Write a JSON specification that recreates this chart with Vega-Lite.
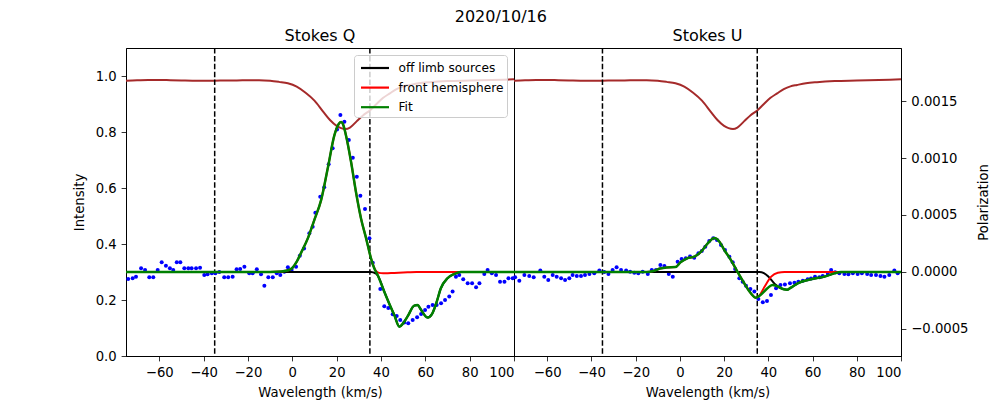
{
  "$schema": "https://vega.github.io/schema/vega-lite/v6.json",
  "description": "Stokes Q and U profiles, 2020/10/16",
  "title": {"text": "2020/10/16", "anchor": "start", "frame": "bounds", "dx": 383, "offset": 3},
  "padding": {"left": 71, "top": 8, "right": 5, "bottom": 5},
  "datasets": {
    "intensity": [
      {"x": -75, "i": 0.983}, {"x": -70, "i": 0.985}, {"x": -65, "i": 0.986}, {"x": -60, "i": 0.986},
      {"x": -55, "i": 0.985}, {"x": -50, "i": 0.984}, {"x": -45, "i": 0.983}, {"x": -40, "i": 0.983},
      {"x": -35, "i": 0.983}, {"x": -30, "i": 0.984}, {"x": -25, "i": 0.984}, {"x": -20, "i": 0.985},
      {"x": -15, "i": 0.985}, {"x": -10, "i": 0.983}, {"x": -6, "i": 0.979}, {"x": -2, "i": 0.974},
      {"x": 2, "i": 0.962}, {"x": 6, "i": 0.940}, {"x": 10, "i": 0.912}, {"x": 14, "i": 0.872},
      {"x": 17, "i": 0.843}, {"x": 20, "i": 0.822}, {"x": 22, "i": 0.814}, {"x": 24, "i": 0.811},
      {"x": 26, "i": 0.816}, {"x": 29, "i": 0.838}, {"x": 32, "i": 0.860}, {"x": 35, "i": 0.877},
      {"x": 38, "i": 0.900}, {"x": 41, "i": 0.922}, {"x": 44, "i": 0.938}, {"x": 47, "i": 0.953},
      {"x": 50, "i": 0.963}, {"x": 53, "i": 0.968}, {"x": 57, "i": 0.974}, {"x": 62, "i": 0.978},
      {"x": 70, "i": 0.982}, {"x": 80, "i": 0.984}, {"x": 90, "i": 0.986}, {"x": 100, "i": 0.988}
    ],
    "q_pts": [
      {"x": -74.0, "p": -0.000061}, {"x": -72.0, "p": -0.000055}, {"x": -70.5, "p": -0.000041},
      {"x": -68.2, "p": 0.000032}, {"x": -66.4, "p": 0.000018}, {"x": -64.5, "p": -0.000047},
      {"x": -62.7, "p": -0.000047}, {"x": -60.7, "p": 0.000018}, {"x": -58.9, "p": 0.000085},
      {"x": -57.0, "p": 0.000055}, {"x": -55.2, "p": 0.000032}, {"x": -53.7, "p": 0.000018},
      {"x": -52.1, "p": 0.000085}, {"x": -50.5, "p": 0.000085}, {"x": -48.7, "p": 0.000032},
      {"x": -46.9, "p": 0.000032}, {"x": -45.4, "p": 0.000032}, {"x": -43.4, "p": 0.000032},
      {"x": -41.6, "p": 0.000038}, {"x": -39.7, "p": -0.000026}, {"x": -38.2, "p": -0.000020},
      {"x": -36.3, "p": -0.000012}, {"x": -34.7, "p": -0.000012}, {"x": -32.9, "p": 0.0},
      {"x": -30.7, "p": -0.000047}, {"x": -28.9, "p": -0.000047}, {"x": -26.9, "p": -0.000041},
      {"x": -25.1, "p": 0.000023}, {"x": -23.5, "p": 0.000026}, {"x": -21.6, "p": 0.000047},
      {"x": -19.4, "p": -0.000012}, {"x": -17.9, "p": -0.000012}, {"x": -16.0, "p": 0.000023},
      {"x": -14.1, "p": -0.000020}, {"x": -12.6, "p": -0.000120}, {"x": -10.8, "p": -0.000047},
      {"x": -8.8, "p": -0.000047}, {"x": -7.0, "p": -0.000012}, {"x": -5.4, "p": -0.000026},
      {"x": -3.6, "p": 0.000003}, {"x": -2.0, "p": 0.000041}, {"x": -0.3, "p": 0.000018},
      {"x": 1.7, "p": 0.000047}, {"x": 3.4, "p": 0.000143}, {"x": 5.3, "p": 0.000207},
      {"x": 7.7, "p": 0.000339}, {"x": 9.2, "p": 0.000397}, {"x": 10.4, "p": 0.00052},
      {"x": 12.6, "p": 0.00066}, {"x": 14.4, "p": 0.000743}, {"x": 16.4, "p": 0.000945},
      {"x": 18.2, "p": 0.001085}, {"x": 20.2, "p": 0.00125}, {"x": 21.7, "p": 0.001377},
      {"x": 23.5, "p": 0.001318}, {"x": 25.5, "p": 0.001158}, {"x": 27.3, "p": 0.001002},
      {"x": 29.1, "p": 0.000836}, {"x": 30.7, "p": 0.000669}, {"x": 32.8, "p": 0.000552},
      {"x": 34.8, "p": 0.000295}, {"x": 36.3, "p": 0.00008}, {"x": 39.7, "p": -0.00015},
      {"x": 41.5, "p": -0.0003}, {"x": 43.3, "p": -0.000315}, {"x": 45.3, "p": -0.00037},
      {"x": 47.1, "p": -0.000385}, {"x": 48.7, "p": -0.000421}, {"x": 50.5, "p": -0.000444},
      {"x": 52.3, "p": -0.00045}, {"x": 54.3, "p": -0.000421}, {"x": 56.3, "p": -0.000398},
      {"x": 58.1, "p": -0.000368}, {"x": 59.9, "p": -0.000333}, {"x": 61.4, "p": -0.000304},
      {"x": 63.3, "p": -0.000289}, {"x": 65.1, "p": -0.000289}, {"x": 67.1, "p": -0.000275},
      {"x": 68.9, "p": -0.000246}, {"x": 70.8, "p": -0.000216}, {"x": 72.3, "p": -0.000172},
      {"x": 73.8, "p": -0.000041}, {"x": 75.3, "p": -0.000026}, {"x": 77.1, "p": -0.000064},
      {"x": 79.1, "p": -0.000099}, {"x": 81.1, "p": -0.000099}, {"x": 82.9, "p": -0.000134},
      {"x": 84.4, "p": -0.000099}, {"x": 86.6, "p": -0.000018}, {"x": 88.1, "p": 0.000018},
      {"x": 90.0, "p": -0.000012}, {"x": 91.9, "p": -0.000026}, {"x": 93.7, "p": -0.000085},
      {"x": 95.7, "p": -0.000085}, {"x": 97.5, "p": -0.000056}, {"x": 99.4, "p": -0.000056}
    ],
    "u_pts": [
      {"x": -74.5, "p": -0.000047}, {"x": -72.6, "p": -0.000076}, {"x": -70.3, "p": -0.000026},
      {"x": -68.1, "p": -0.000035}, {"x": -66.1, "p": -0.000047}, {"x": -63.1, "p": 0.000012},
      {"x": -61.3, "p": -0.000041}, {"x": -59.5, "p": -0.00007}, {"x": -57.5, "p": -0.000026},
      {"x": -55.7, "p": -0.000041}, {"x": -53.7, "p": -0.000056}, {"x": -51.9, "p": -0.00007},
      {"x": -50.0, "p": -0.000056}, {"x": -48.5, "p": -0.000026}, {"x": -46.6, "p": -0.000035},
      {"x": -44.7, "p": -0.000035}, {"x": -42.9, "p": -0.000026}, {"x": -40.9, "p": -0.000018},
      {"x": -38.7, "p": -0.000012}, {"x": -36.4, "p": 0.000012}, {"x": -34.2, "p": 0.0},
      {"x": -32.3, "p": -0.000018}, {"x": -30.4, "p": 0.000018}, {"x": -28.6, "p": 0.000041},
      {"x": -26.6, "p": 0.000018}, {"x": -24.3, "p": 0.000012}, {"x": -22.5, "p": 0.000003},
      {"x": -20.6, "p": -0.000006}, {"x": -18.8, "p": -0.000012}, {"x": -16.8, "p": 0.000003},
      {"x": -14.5, "p": -0.000018}, {"x": -12.7, "p": 0.000018}, {"x": -10.8, "p": 0.000018},
      {"x": -8.8, "p": 0.000061}, {"x": -7.0, "p": 0.000053}, {"x": -5.0, "p": -0.000018},
      {"x": -3.2, "p": -0.000041}, {"x": -1.0, "p": 0.00009}, {"x": 0.8, "p": 0.000115},
      {"x": 2.7, "p": 0.00012}, {"x": 4.6, "p": 0.000135}, {"x": 6.5, "p": 0.000126},
      {"x": 8.4, "p": 0.000164}, {"x": 9.9, "p": 0.000184}, {"x": 11.5, "p": 0.000222},
      {"x": 13.3, "p": 0.000272}, {"x": 15.1, "p": 0.000295}, {"x": 16.8, "p": 0.000281},
      {"x": 18.6, "p": 0.000237}, {"x": 20.4, "p": 0.000193}, {"x": 22.4, "p": 0.000134},
      {"x": 23.9, "p": 0.000085}, {"x": 25.0, "p": 0.000026}, {"x": 26.9, "p": -0.000056},
      {"x": 28.4, "p": -0.000085}, {"x": 29.9, "p": -0.00012}, {"x": 31.9, "p": -0.000149},
      {"x": 33.7, "p": -0.000172}, {"x": 35.5, "p": -0.000237}, {"x": 37.5, "p": -0.000266},
      {"x": 39.4, "p": -0.000254}, {"x": 41.2, "p": -0.000202}, {"x": 43.5, "p": -0.000143},
      {"x": 45.5, "p": -0.000114}, {"x": 47.5, "p": -0.00011}, {"x": 49.8, "p": -0.000099},
      {"x": 51.8, "p": -0.000094}, {"x": 53.6, "p": -0.000085}, {"x": 55.6, "p": -0.000076},
      {"x": 57.8, "p": -0.000064}, {"x": 59.3, "p": -0.000058}, {"x": 61.1, "p": -0.000041},
      {"x": 63.1, "p": -0.000047}, {"x": 64.6, "p": -0.000035}, {"x": 66.9, "p": -0.000018},
      {"x": 68.4, "p": 0.000018}, {"x": 70.2, "p": -0.000002}, {"x": 72.1, "p": -0.000012},
      {"x": 74.4, "p": -0.000018}, {"x": 76.2, "p": -0.00002}, {"x": 78.2, "p": -0.000012},
      {"x": 80.4, "p": -0.000018}, {"x": 82.3, "p": -0.000012}, {"x": 84.7, "p": -0.000018},
      {"x": 86.5, "p": -0.000026}, {"x": 88.7, "p": -0.000026}, {"x": 90.7, "p": -0.000035},
      {"x": 92.5, "p": -0.000041}, {"x": 94.7, "p": -0.000026}, {"x": 97.0, "p": 0.000012},
      {"x": 98.5, "p": -0.000012}
    ],
    "q_lines": [
      {"s": "off limb sources", "x": -75, "p": 0}, {"s": "off limb sources", "x": 35.5, "p": 0},
      {"s": "off limb sources", "x": 36.5, "p": -0.000003}, {"s": "off limb sources", "x": 37.5, "p": -0.000012},
      {"s": "off limb sources", "x": 38.5, "p": -0.00003}, {"s": "off limb sources", "x": 39.5, "p": -0.00007},
      {"s": "off limb sources", "x": 41.5, "p": -0.000173}, {"s": "off limb sources", "x": 44, "p": -0.00029},
      {"s": "off limb sources", "x": 46, "p": -0.000377}, {"s": "off limb sources", "x": 48.3, "p": -0.00048},
      {"s": "off limb sources", "x": 50, "p": -0.00045}, {"s": "off limb sources", "x": 52, "p": -0.00039},
      {"s": "off limb sources", "x": 55, "p": -0.000295}, {"s": "off limb sources", "x": 56.5, "p": -0.00029},
      {"s": "off limb sources", "x": 58, "p": -0.00033}, {"s": "off limb sources", "x": 61, "p": -0.0004},
      {"s": "off limb sources", "x": 63, "p": -0.00037}, {"s": "off limb sources", "x": 65, "p": -0.00027},
      {"s": "off limb sources", "x": 67, "p": -0.000143}, {"s": "off limb sources", "x": 70, "p": -0.000055},
      {"s": "off limb sources", "x": 73, "p": -0.000018}, {"s": "off limb sources", "x": 76, "p": 0},
      {"s": "off limb sources", "x": 100, "p": 0},
      {"s": "front hemisphere", "x": -75, "p": 0}, {"s": "front hemisphere", "x": -10, "p": 0},
      {"s": "front hemisphere", "x": -5, "p": 0.000004}, {"s": "front hemisphere", "x": -2, "p": 0.000015},
      {"s": "front hemisphere", "x": 0, "p": 0.000035}, {"s": "front hemisphere", "x": 2, "p": 0.00009},
      {"s": "front hemisphere", "x": 4, "p": 0.00017}, {"s": "front hemisphere", "x": 7, "p": 0.000295},
      {"s": "front hemisphere", "x": 10, "p": 0.00046}, {"s": "front hemisphere", "x": 13, "p": 0.00063},
      {"s": "front hemisphere", "x": 16, "p": 0.00091}, {"s": "front hemisphere", "x": 19, "p": 0.0012},
      {"s": "front hemisphere", "x": 21, "p": 0.0013}, {"s": "front hemisphere", "x": 22, "p": 0.001315},
      {"s": "front hemisphere", "x": 23, "p": 0.00129}, {"s": "front hemisphere", "x": 24.2, "p": 0.0012},
      {"s": "front hemisphere", "x": 26.5, "p": 0.000967}, {"s": "front hemisphere", "x": 28.7, "p": 0.000704},
      {"s": "front hemisphere", "x": 31, "p": 0.00047}, {"s": "front hemisphere", "x": 33.3, "p": 0.000295},
      {"s": "front hemisphere", "x": 35.5, "p": 0.00012}, {"s": "front hemisphere", "x": 36.5, "p": 0.00006},
      {"s": "front hemisphere", "x": 37.5, "p": 0.000015}, {"s": "front hemisphere", "x": 38.5, "p": -0.000003},
      {"s": "front hemisphere", "x": 40, "p": -0.00001}, {"s": "front hemisphere", "x": 42, "p": -0.000012},
      {"s": "front hemisphere", "x": 46, "p": -0.000008}, {"s": "front hemisphere", "x": 52, "p": -0.000003},
      {"s": "front hemisphere", "x": 56, "p": 0}, {"s": "front hemisphere", "x": 100, "p": 0},
      {"s": "Fit", "x": -75, "p": 0}, {"s": "Fit", "x": -10, "p": 0}, {"s": "Fit", "x": -5, "p": 0.000004},
      {"s": "Fit", "x": -2, "p": 0.000015}, {"s": "Fit", "x": 0, "p": 0.000035}, {"s": "Fit", "x": 2, "p": 0.00009},
      {"s": "Fit", "x": 4, "p": 0.00017}, {"s": "Fit", "x": 7, "p": 0.000295}, {"s": "Fit", "x": 10, "p": 0.00046},
      {"s": "Fit", "x": 13, "p": 0.00063}, {"s": "Fit", "x": 16, "p": 0.00091}, {"s": "Fit", "x": 19, "p": 0.0012},
      {"s": "Fit", "x": 21, "p": 0.0013}, {"s": "Fit", "x": 22, "p": 0.001315}, {"s": "Fit", "x": 23, "p": 0.00129},
      {"s": "Fit", "x": 24.2, "p": 0.0012}, {"s": "Fit", "x": 26.5, "p": 0.000967}, {"s": "Fit", "x": 28.7, "p": 0.000704},
      {"s": "Fit", "x": 31, "p": 0.00047}, {"s": "Fit", "x": 33.3, "p": 0.000295}, {"s": "Fit", "x": 35.5, "p": 0.00012},
      {"s": "Fit", "x": 37, "p": 0.00003}, {"s": "Fit", "x": 38.5, "p": -0.000026}, {"s": "Fit", "x": 41.5, "p": -0.000173},
      {"s": "Fit", "x": 44, "p": -0.00029}, {"s": "Fit", "x": 46, "p": -0.000377}, {"s": "Fit", "x": 48.3, "p": -0.00048},
      {"s": "Fit", "x": 50, "p": -0.00045}, {"s": "Fit", "x": 52, "p": -0.00039}, {"s": "Fit", "x": 55, "p": -0.000295},
      {"s": "Fit", "x": 56.5, "p": -0.00029}, {"s": "Fit", "x": 58, "p": -0.00033}, {"s": "Fit", "x": 61, "p": -0.0004},
      {"s": "Fit", "x": 63, "p": -0.00037}, {"s": "Fit", "x": 65, "p": -0.00027}, {"s": "Fit", "x": 67, "p": -0.000143},
      {"s": "Fit", "x": 70, "p": -0.000055}, {"s": "Fit", "x": 73, "p": -0.000018}, {"s": "Fit", "x": 76, "p": 0},
      {"s": "Fit", "x": 100, "p": 0}
    ],
    "u_lines": [
      {"s": "off limb sources", "x": -75, "p": 0}, {"s": "off limb sources", "x": 36, "p": 0},
      {"s": "off limb sources", "x": 38, "p": -0.00001}, {"s": "off limb sources", "x": 40, "p": -0.00004},
      {"s": "off limb sources", "x": 42, "p": -0.000085}, {"s": "off limb sources", "x": 43.5, "p": -0.000115},
      {"s": "off limb sources", "x": 44.1, "p": -0.000125}, {"s": "off limb sources", "x": 47, "p": -0.000152},
      {"s": "off limb sources", "x": 48.5, "p": -0.000155}, {"s": "off limb sources", "x": 50, "p": -0.00014},
      {"s": "off limb sources", "x": 53.3, "p": -0.000099}, {"s": "off limb sources", "x": 59.3, "p": -0.000064},
      {"s": "off limb sources", "x": 65.3, "p": -0.000041}, {"s": "off limb sources", "x": 69.8, "p": -0.000012},
      {"s": "off limb sources", "x": 72.8, "p": 0}, {"s": "off limb sources", "x": 100, "p": 0},
      {"s": "front hemisphere", "x": -75, "p": 0}, {"s": "front hemisphere", "x": -15, "p": 0},
      {"s": "front hemisphere", "x": -12, "p": 0.000008}, {"s": "front hemisphere", "x": -9, "p": 0.00003},
      {"s": "front hemisphere", "x": -6, "p": 0.00004}, {"s": "front hemisphere", "x": -2, "p": 0.000043},
      {"s": "front hemisphere", "x": 0.3, "p": 0.000085}, {"s": "front hemisphere", "x": 3.3, "p": 0.00012},
      {"s": "front hemisphere", "x": 6.5, "p": 0.000134}, {"s": "front hemisphere", "x": 9.6, "p": 0.000178},
      {"s": "front hemisphere", "x": 12.6, "p": 0.000251}, {"s": "front hemisphere", "x": 15.6, "p": 0.000298},
      {"s": "front hemisphere", "x": 17.9, "p": 0.000266}, {"s": "front hemisphere", "x": 20.1, "p": 0.000193},
      {"s": "front hemisphere", "x": 23.1, "p": 0.000105}, {"s": "front hemisphere", "x": 26.1, "p": 0},
      {"s": "front hemisphere", "x": 29.1, "p": -0.000099}, {"s": "front hemisphere", "x": 32.1, "p": -0.000187},
      {"s": "front hemisphere", "x": 34.3, "p": -0.000225}, {"s": "front hemisphere", "x": 36, "p": -0.000205},
      {"s": "front hemisphere", "x": 38.3, "p": -0.000129}, {"s": "front hemisphere", "x": 41.3, "p": -0.000041},
      {"s": "front hemisphere", "x": 44.3, "p": -0.000006}, {"s": "front hemisphere", "x": 47.3, "p": 0},
      {"s": "front hemisphere", "x": 100, "p": 0},
      {"s": "Fit", "x": -75, "p": 0}, {"s": "Fit", "x": -15, "p": 0}, {"s": "Fit", "x": -12, "p": 0.000008},
      {"s": "Fit", "x": -9, "p": 0.00003}, {"s": "Fit", "x": -6, "p": 0.00004}, {"s": "Fit", "x": -2, "p": 0.000043},
      {"s": "Fit", "x": 0.3, "p": 0.000085}, {"s": "Fit", "x": 3.3, "p": 0.00012}, {"s": "Fit", "x": 6.5, "p": 0.000134},
      {"s": "Fit", "x": 9.6, "p": 0.000178}, {"s": "Fit", "x": 12.6, "p": 0.000251}, {"s": "Fit", "x": 15.6, "p": 0.000298},
      {"s": "Fit", "x": 17.9, "p": 0.000266}, {"s": "Fit", "x": 20.1, "p": 0.000193}, {"s": "Fit", "x": 23.1, "p": 0.000105},
      {"s": "Fit", "x": 26.1, "p": 0}, {"s": "Fit", "x": 29.1, "p": -0.000099}, {"s": "Fit", "x": 32.1, "p": -0.000187},
      {"s": "Fit", "x": 34.3, "p": -0.000225}, {"s": "Fit", "x": 36.6, "p": -0.0002}, {"s": "Fit", "x": 39.6, "p": -0.000143},
      {"s": "Fit", "x": 41.8, "p": -0.000114}, {"s": "Fit", "x": 44.1, "p": -0.000125}, {"s": "Fit", "x": 47, "p": -0.000152},
      {"s": "Fit", "x": 48.5, "p": -0.000155}, {"s": "Fit", "x": 50, "p": -0.00014}, {"s": "Fit", "x": 53.3, "p": -0.000099},
      {"s": "Fit", "x": 59.3, "p": -0.000064}, {"s": "Fit", "x": 65.3, "p": -0.000041}, {"s": "Fit", "x": 69.8, "p": -0.000012},
      {"s": "Fit", "x": 72.8, "p": 0}, {"s": "Fit", "x": 100, "p": 0}
    ]
  },
  "spacing": 0,
  "bounds": "flush",
  "resolve": {"scale": {"color": "independent"}, "legend": {"color": "independent"}},
  "hconcat": [
    {
      "title": "Stokes Q",
      "width": 388,
      "height": 308,
      "layer": [
        {
          "data": {"name": "intensity"},
          "mark": {"type": "line", "color": "#a52a2a", "strokeWidth": 2, "interpolate": "monotone"},
          "encoding": {
            "x": {"field": "x", "type": "quantitative", "scale": {"domain": [-75, 100], "nice": false, "zero": false},
                  "axis": {"title": "Wavelength (km/s)", "values": [-60, -40, -20, 0, 20, 40, 60, 80, 100]}},
            "y": {"field": "i", "type": "quantitative", "scale": {"domain": [0, 1.1], "nice": false},
                  "axis": {"title": "Intensity", "values": [0, 0.2, 0.4, 0.6, 0.8, 1.0], "format": ".1f"}}
          }
        },
        {
          "data": {"values": [{"x": -35}, {"x": 35}]},
          "mark": {"type": "rule", "color": "black", "strokeWidth": 1.5, "strokeDash": [5.5, 2.4]},
          "encoding": {"x": {"field": "x", "type": "quantitative"}}
        },
        {
          "encoding": {
            "x": {"field": "x", "type": "quantitative"},
            "y": {"field": "p", "type": "quantitative", "scale": {"domain": [-0.000737, 0.001965], "nice": false, "zero": false}, "axis": null}
          },
          "layer": [
            {
              "data": {"name": "q_pts"},
              "mark": {"type": "circle", "size": 16, "color": "#0000ff", "opacity": 1}
            },
            {
              "data": {"name": "q_lines"},
              "transform": [{"filter": "datum.s === 'off limb sources'"}],
              "mark": {"type": "line", "strokeWidth": 2, "interpolate": "monotone"},
              "encoding": {"color": {"field": "s", "type": "nominal", "scale": {"domain": ["off limb sources", "front hemisphere", "Fit"], "range": ["#000000", "#ff0000", "#008000"]}, "legend": {"title": null, "orient": "top-right", "offset": 7}}}
            },
            {
              "data": {"name": "q_lines"},
              "transform": [{"filter": "datum.s === 'front hemisphere'"}],
              "mark": {"type": "line", "strokeWidth": 2, "interpolate": "monotone"},
              "encoding": {"color": {"field": "s", "type": "nominal"}}
            },
            {
              "data": {"name": "q_lines"},
              "transform": [{"filter": "datum.s === 'Fit'"}],
              "mark": {"type": "line", "strokeWidth": 2.5, "interpolate": "monotone"},
              "encoding": {"color": {"field": "s", "type": "nominal"}}
            }
          ]
        }
      ],
      "resolve": {"scale": {"y": "independent"}}
    },
    {
      "title": "Stokes U",
      "width": 387,
      "height": 308,
      "layer": [
        {
          "data": {"name": "intensity"},
          "mark": {"type": "line", "color": "#a52a2a", "strokeWidth": 2, "interpolate": "monotone"},
          "encoding": {
            "x": {"field": "x", "type": "quantitative", "scale": {"domain": [-75, 100], "nice": false, "zero": false},
                  "axis": {"title": "Wavelength (km/s)", "values": [-60, -40, -20, 0, 20, 40, 60, 80, 100]}},
            "y": {"field": "i", "type": "quantitative", "scale": {"domain": [0, 1.1], "nice": false}, "axis": null}
          }
        },
        {
          "data": {"values": [{"x": -35}, {"x": 35}]},
          "mark": {"type": "rule", "color": "black", "strokeWidth": 1.5, "strokeDash": [5.5, 2.4]},
          "encoding": {"x": {"field": "x", "type": "quantitative"}}
        },
        {
          "encoding": {
            "x": {"field": "x", "type": "quantitative"},
            "y": {"field": "p", "type": "quantitative", "scale": {"domain": [-0.000737, 0.001965], "nice": false, "zero": false},
                  "axis": {"orient": "right", "title": "Polarization", "titleAngle": 270, "values": [-0.0005, 0, 0.0005, 0.001, 0.0015], "format": ".4f"}}
          },
          "layer": [
            {
              "data": {"name": "u_pts"},
              "mark": {"type": "circle", "size": 16, "color": "#0000ff", "opacity": 1}
            },
            {
              "data": {"name": "u_lines"},
              "transform": [{"filter": "datum.s === 'off limb sources'"}],
              "mark": {"type": "line", "strokeWidth": 2, "interpolate": "monotone"},
              "encoding": {"color": {"field": "s", "type": "nominal", "scale": {"domain": ["off limb sources", "front hemisphere", "Fit"], "range": ["#000000", "#ff0000", "#008000"]}, "legend": null}}
            },
            {
              "data": {"name": "u_lines"},
              "transform": [{"filter": "datum.s === 'front hemisphere'"}],
              "mark": {"type": "line", "strokeWidth": 2, "interpolate": "monotone"},
              "encoding": {"color": {"field": "s", "type": "nominal", "legend": null}}
            },
            {
              "data": {"name": "u_lines"},
              "transform": [{"filter": "datum.s === 'Fit'"}],
              "mark": {"type": "line", "strokeWidth": 2.5, "interpolate": "monotone"},
              "encoding": {"color": {"field": "s", "type": "nominal", "legend": null}}
            }
          ]
        }
      ],
      "resolve": {"scale": {"y": "independent"}}
    }
  ],
  "config": {
    "font": "DejaVu Sans",
    "background": "white",
    "view": {"stroke": "black", "strokeWidth": 1},
    "title": {"font": "DejaVu Sans", "fontSize": 16, "fontWeight": "normal", "color": "black", "offset": 3},
    "axis": {
      "grid": false,
      "domainColor": "black",
      "domainWidth": 1,
      "tickColor": "black",
      "tickSize": 4.9,
      "tickWidth": 0.8,
      "labelPadding": 4.9,
      "labelColor": "black",
      "labelFont": "DejaVu Sans",
      "labelFontSize": 13.2,
      "titleFont": "DejaVu Sans",
      "titleFontSize": 13.2,
      "titleFontWeight": "normal",
      "titleColor": "black"
    },
    "axisLeft": {"titlePadding": 9},
    "axisRight": {"titlePadding": 23},
    "axisBottom": {"titlePadding": 7, "labelPadding": 5.9},
    "legend": {
      "labelFont": "DejaVu Sans",
      "labelFontSize": 12.2,
      "labelColor": "black",
      "symbolType": "M-1.75,0H1.75",
      "symbolSize": 256,
      "symbolStrokeWidth": 2.2,
      "symbolOffset": 8,
      "labelOffset": 14,
      "rowPadding": 3.6,
      "padding": 3.5,
      "fillColor": "rgba(255,255,255,0.8)",
      "strokeColor": "#cccccc",
      "cornerRadius": 3
    }
  }
}
